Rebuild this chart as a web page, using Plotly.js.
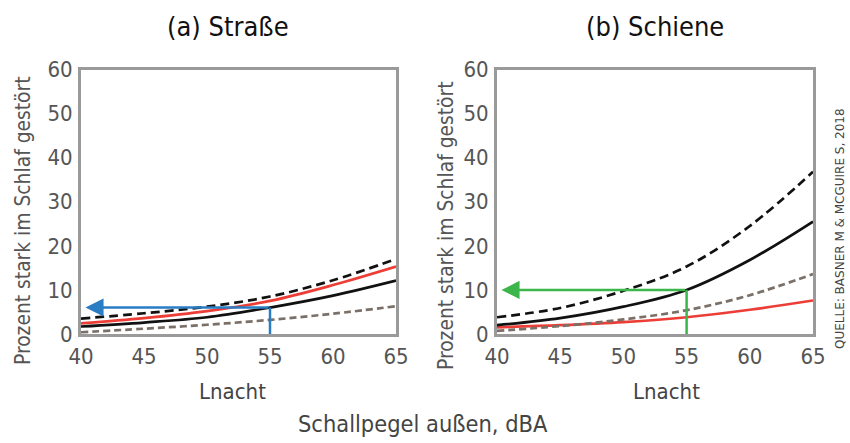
<!DOCTYPE html>
<html>
<head>
<meta charset="utf-8">
<script src="https://cdn.plot.ly/plotly-3.0.1.min.js"></script>
<style>html,body{margin:0;padding:0;background:#fff;}#chart{width:850px;height:443px;}</style>
</head>
<body>
<div id="chart"></div>
<script>
// Data
const levels = [40, 45, 50, 55, 60, 65];
const xTicks = [40, 45, 50, 55, 60, 65];
const yTicks = [0, 10, 20, 30, 40, 50, 60];

const strasseDashed = [3.5, 4.7, 6.2, 8.5, 12.2, 17.0];
const strasseRed    = [2.4, 3.6, 5.2, 7.5, 11.1, 15.3];
const strasseBlack  = [1.7, 2.6, 3.8, 6.0, 8.7, 12.1];
const strasseGrey   = [0.4, 1.2, 2.1, 3.2, 4.6, 6.3];

const schieneDashed = [3.8, 5.9, 9.8, 15.3, 24.5, 36.8];
const schieneBlack  = [2.0, 3.6, 6.2, 10.0, 16.8, 25.5];
const schieneGrey   = [0.7, 1.8, 3.3, 5.4, 8.8, 13.6];
const schieneRed    = [1.5, 2.0, 2.7, 3.8, 5.5, 7.6];

const strasseMarkLevel = 55, strasseMarkValue = 6;
const schieneMarkLevel = 55, schieneMarkValue = 10;

const titleA = "(a) Straße";
const titleB = "(b) Schiene";
const yTitle = "Prozent stark im Schlaf gestört";
const xTitle = "Lnacht";
const xMain = "Schallpegel außen, dBA";
const source = "QUELLE: BASNER M & MCGUIRE S, 2018";

const FONT = "'DejaVu Sans Condensed', 'Liberation Sans Narrow', Roboto, sans-serif";
const SRCFONT = "'DejaVu Sans', sans-serif";
const W = 850, H = 443;
const px = v => v / W, py = v => 1 - v / H;

function tr(y, ax, color, dash) {
  return {x: levels, y: y, xaxis: ax === 1 ? 'x' : 'x2', yaxis: ax === 1 ? 'y' : 'y2',
    mode: 'lines', line: {color: color, width: 2.7, dash: dash, shape: 'spline', smoothing: 1},
    hoverinfo: 'skip', showlegend: false};
}
const BLACK = '#111', RED = '#ec3e36', GREY = '#7b7068', BLUE = '#2a7cc3', GREEN = '#3cb54a';
const DASH = '9px,5px', GDASH = '7px,4px';

const data = [
  tr(strasseGrey, 1, GREY, GDASH),
  tr(strasseBlack, 1, BLACK, 'solid'),
  tr(strasseRed, 1, RED, 'solid'),
  tr(strasseDashed, 1, BLACK, DASH),
  tr(schieneRed, 2, RED, 'solid'),
  tr(schieneGrey, 2, GREY, GDASH),
  tr(schieneBlack, 2, BLACK, 'solid'),
  tr(schieneDashed, 2, BLACK, DASH)
];

const xBase = {range: [40, 65], tickvals: xTicks, ticks: '', showgrid: false, zeroline: false,
  showline: true, mirror: true, linecolor: '#9a9a9a', linewidth: 3, ticklabelstandoff: 1,
  tickfont: {family: FONT, size: 22, color: '#555'}, fixedrange: true};
const yBase = {range: [0, 60], tickvals: yTicks, ticks: '', showgrid: false, zeroline: false,
  showline: true, mirror: true, linecolor: '#9a9a9a', linewidth: 3, ticklabelstandoff: 1,
  tickfont: {family: FONT, size: 22, color: '#555'}, fixedrange: true, domain: [py(334), py(69.5)]};

function txt(text, x, y, size, color, angle, family) {
  return {text: text, x: px(x), y: py(y), xref: 'paper', yref: 'paper', showarrow: false,
    xanchor: 'center', yanchor: 'middle', textangle: angle || 0,
    font: {family: family || FONT, size: size, color: color}};
}
function arrow(ax, level, value, color) {
  const xr = ax === 1 ? 'x' : 'x2', yr = ax === 1 ? 'y' : 'y2';
  return {x: 40.35, y: value, ax: level, ay: value, xref: xr, yref: yr, axref: xr, ayref: yr,
    showarrow: true, arrowhead: 2, arrowsize: 1.45, arrowwidth: 2.5, arrowcolor: color, text: ''};
}

const layout = {
  width: W, height: H, margin: {l: 0, r: 0, t: 0, b: 0},
  paper_bgcolor: '#fff', plot_bgcolor: '#fff',
  xaxis: Object.assign({}, xBase, {domain: [px(81), px(396)], anchor: 'y'}),
  yaxis: Object.assign({}, yBase, {anchor: 'x'}),
  xaxis2: Object.assign({}, xBase, {domain: [px(497), px(813)], anchor: 'y2'}),
  yaxis2: Object.assign({}, yBase, {anchor: 'x2'}),
  shapes: [
    {type: 'line', xref: 'x', yref: 'y', x0: strasseMarkLevel, x1: strasseMarkLevel, y0: 0, y1: strasseMarkValue,
     line: {color: BLUE, width: 2.5}},
    {type: 'line', xref: 'x2', yref: 'y2', x0: schieneMarkLevel, x1: schieneMarkLevel, y0: 0, y1: schieneMarkValue,
     line: {color: GREEN, width: 2.5}}
  ],
  annotations: [
    arrow(1, strasseMarkLevel, strasseMarkValue, BLUE),
    arrow(2, schieneMarkLevel, schieneMarkValue, GREEN),
    txt(titleA, 228, 26, 27, '#111'),
    txt(titleB, 655, 26, 27, '#111'),
    txt(yTitle, 23, 221, 20.8, '#555', -90),
    txt(yTitle, 446, 225, 20.8, '#555', -90),
    txt(xTitle, 232, 391, 22, '#444'),
    txt(xTitle, 666, 391, 22, '#444'),
    txt(xMain, 423, 424, 23.4, '#444'),
    txt(source, 840, 229, 12, '#444', -90, SRCFONT)
  ]
};

Plotly.newPlot('chart', data, layout, {displayModeBar: false, staticPlot: true});
</script>
</body>
</html>
